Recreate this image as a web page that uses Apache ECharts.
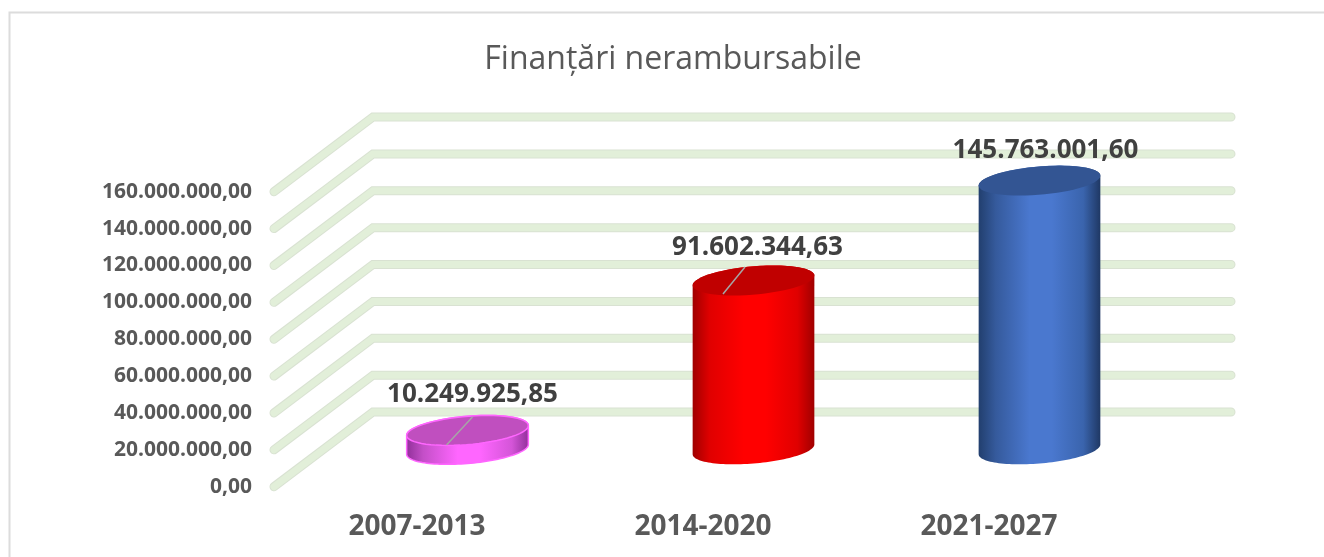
<!DOCTYPE html>
<html><head><meta charset="utf-8">
<style>html,body{margin:0;padding:0;background:#fff}#c{width:1324px;height:557px}</style>
<script src="https://cdn.jsdelivr.net/npm/echarts@6/dist/echarts.min.js"></script>
</head><body><div id="c"></div>
<script>
const titleText = 'Finanțări nerambursabile';
const categories = ['2007-2013', '2014-2020', '2021-2027'];
const values = [10249925.85, 91602344.63, 145763001.60];
const gridValues = [0, 20000000, 40000000, 60000000, 80000000, 100000000, 120000000, 140000000, 160000000];

const FONT = '"Open Sans", sans-serif';
const DEPTH = [99, -74.7];
const RX = 57.5, RD = 15, DX = 19.9;
const palettes = [
  { stops: ['#8f2f98', '#c44fc8', '#ff66ff', '#ff66ff', '#d455d8', '#8f2f98'], top: '#c04fbf', stroke: '#ff66ff', sw: 1.5 },
  { stops: ['#a00000', '#e00000', '#ff0000', '#ff0000', '#e00000', '#a00000'], top: '#c00000', stroke: null, sw: 0 },
  { stops: ['#223f6e', '#355a9c', '#4a78cf', '#4a78cf', '#3a64ad', '#1f3864'], top: '#335593', stroke: null, sw: 0 }
];
const leaders = [[[-21, 14.5], [5, -13.5]], [[-30.5, 13.5], [-8.5, -13.5]], null];
const labelOffsets = [[5, -35.5], [4, -32.5], [6, -30]];

function fmt(v) {
  const p = Number(v).toFixed(2).split('.');
  return p[0].replace(/\B(?=(\d{3})+$)/g, '.') + ',' + p[1];
}
function ell(cx, cy, t) {
  return [cx + RX * Math.cos(t) + DX * Math.sin(t), cy - RD * Math.sin(t)];
}
function arc(cx, cy, from, to) {
  const pts = [];
  for (let i = 0; i <= 60; i++) pts.push(ell(cx, cy, from + (to - from) * i / 60));
  return pts;
}
const T0 = Math.atan2(DX, RX);

function renderGrid(params, api) {
  const cs = params.coordSys;
  const y = api.coord([0, api.value(0)])[1];
  const pts = [[cs.x, y], [cs.x + DEPTH[0], y + DEPTH[1]], [cs.x + cs.width + DEPTH[0], y + DEPTH[1]]];
  return { type: 'group', silent: true, children: [
    { type: 'polyline', shape: { points: pts }, style: { fill: null, stroke: '#d9e2d2', lineWidth: 9, lineCap: 'round', lineJoin: 'miter' } },
    { type: 'polyline', shape: { points: pts }, style: { fill: null, stroke: '#e2efd9', lineWidth: 7, lineCap: 'round', lineJoin: 'miter' } }
  ]};
}

function renderCyl(params, api) {
  const i = params.dataIndex;
  const pal = palettes[i];
  const front = api.coord([api.value(0), api.value(1)]);
  const base = api.coord([api.value(0), 0]);
  const cx = front[0] + DEPTH[0] / 2 + 1;
  const top = front[1] + DEPTH[1] / 2;
  const bot = base[1] + DEPTH[1] / 2;
  const far = arc(cx, top, T0, T0 + Math.PI);
  const near = arc(cx, bot, T0 + Math.PI, T0 + 2 * Math.PI);
  const offs = [0, 0.14, 0.42, 0.6, 0.86, 1];
  const grad = new echarts.graphic.LinearGradient(0, 0, 1, 0, pal.stops.map((c, k) => ({ offset: offs[k], color: c })));
  const kids = [
    { type: 'polygon', shape: { points: far.concat(near) }, style: { fill: grad, stroke: pal.stroke, lineWidth: pal.sw } },
    { type: 'polygon', shape: { points: arc(cx, top, 0, 2 * Math.PI) }, style: { fill: pal.top, stroke: pal.stroke, lineWidth: pal.sw } }
  ];
  if (leaders[i]) {
    const l = leaders[i];
    kids.push({ type: 'line', shape: { x1: cx + l[0][0], y1: top + l[0][1], x2: cx + l[1][0], y2: top + l[1][1] }, style: { stroke: '#a6a6a6', lineWidth: 1.5 } });
  }
  kids.push({ type: 'text', x: cx + labelOffsets[i][0], y: top + labelOffsets[i][1], style: {
    text: fmt(api.value(1)), font: 'bold 26px ' + FONT, fill: '#404040', textAlign: 'center', textVerticalAlign: 'middle' } });
  return { type: 'group', children: kids };
}

const chart = echarts.init(document.getElementById('c'), null, { renderer: 'canvas' });
chart.setOption({
  animation: false,
  backgroundColor: '#fff',
  title: { text: titleText, left: 668, top: 39, textAlign: 'center',
    textStyle: { fontFamily: FONT, fontSize: 32, fontWeight: 'normal', color: '#595959' } },
  graphic: [{ type: 'polyline', silent: true, z: -1,
    shape: { points: [[9.5, 560], [9.5, 12.5], [1330, 12.5]] },
    style: { fill: null, stroke: '#dcdcdc', lineWidth: 2 } }],
  grid: { left: 274, width: 858, top: 191.7, height: 295, containLabel: false },
  xAxis: { type: 'category', data: categories,
    axisLine: { show: false }, axisTick: { show: false },
    axisLabel: { margin: 26, fontFamily: FONT, fontSize: 28, fontWeight: 'bold', color: '#595959' } },
  yAxis: { type: 'value', min: 0, max: 160000000, interval: 20000000,
    axisLine: { show: false }, axisTick: { show: false }, splitLine: { show: false },
    axisLabel: { margin: 22, fontFamily: FONT, fontSize: 21, fontWeight: 'bold', color: '#595959',
      padding: [0, 0, 4, 0], formatter: fmt } },
  series: [
    { type: 'custom', name: 'grid', renderItem: renderGrid, data: gridValues.map(v => [v]),
      encode: { y: 0 }, z: 1, silent: true },
    { type: 'custom', name: 'Finanțări', renderItem: renderCyl, data: values.map((v, i) => [i, v]),
      encode: { x: 0, y: 1 }, z: 2 }
  ]
});
</script></body></html>
